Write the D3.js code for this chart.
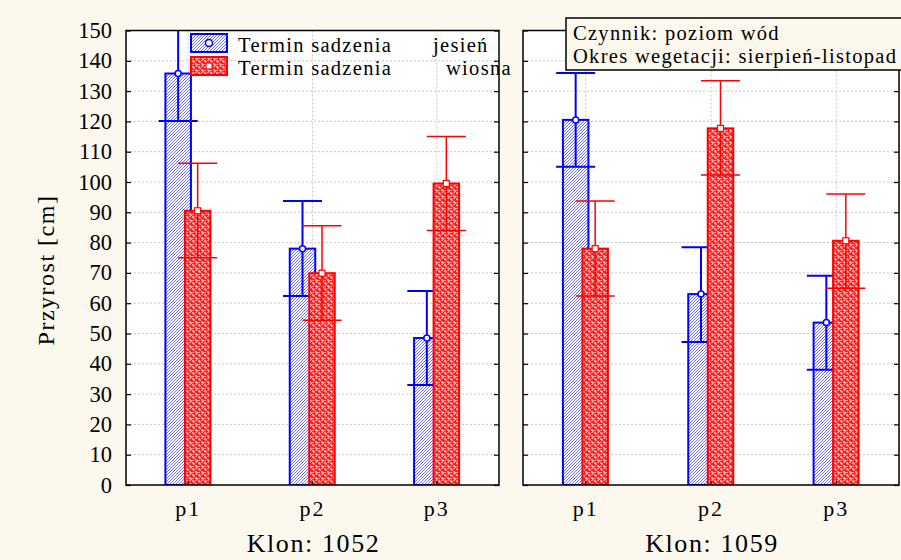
<!DOCTYPE html>
<html>
<head>
<meta charset="utf-8">
<script src="https://cdn.jsdelivr.net/npm/d3@7"></script>
<style>
  html, body { margin: 0; padding: 0; background: #fdf8ee; }
  svg { display: block; font-family: "Liberation Serif", "Times New Roman", serif; }
</style>
</head>
<body>
<div id="chart"></div>
<script>
// --- dane ---
const categories = ["p1", "p2", "p3"];
const clones = ["Klon: 1052", "Klon: 1059"];
const yTicks = [0, 10, 20, 30, 40, 50, 60, 70, 80, 90, 100, 110, 120, 130, 140, 150];

// jesień (niebieski)
const jesienMean = [[135.8, 78.0, 48.5], [120.5, 63.0, 53.6]];
const jesienLow  = [[120.1, 62.4, 33.0], [105.0, 47.2, 38.0]];
const jesienHigh = [[151.5, 93.7, 64.0], [136.0, 78.5, 69.1]];
// wiosna (czerwony)
const wiosnaMean = [[90.5, 69.9, 99.5], [78.0, 117.7, 80.6]];
const wiosnaLow  = [[75.0, 54.4, 84.0], [62.4, 102.3, 64.9]];
const wiosnaHigh = [[106.2, 85.6, 115.0], [93.7, 133.4, 96.0]];

const W = 901, H = 560;
const panels = [{ x0: 126, x1: 499 }, { x0: 523, x1: 899 }];
const yTop = 30.5, yBottom = 485;

const svg = d3.select("#chart").append("svg").attr("width", W).attr("height", H);
svg.append("rect").attr("width", W).attr("height", H).attr("fill", "#fdf8ee");

const defs = svg.append("defs");
// niebieskie kreskowanie ukośne
const pb = defs.append("pattern").attr("id", "hatchBlue")
  .attr("patternUnits", "userSpaceOnUse").attr("width", 3).attr("height", 3);
pb.append("rect").attr("width", 3).attr("height", 3).attr("fill", "#ffffff");
pb.append("path").attr("d", "M-1,1 L1,-1 M0,3 L3,0 M2,4 L4,2")
  .attr("stroke", "#4a4aff").attr("stroke-width", 0.8);
// czerwony wzór "zygzak"
const pr = defs.append("pattern").attr("id", "hatchRed")
  .attr("patternUnits", "userSpaceOnUse").attr("width", 6).attr("height", 6);
pr.append("rect").attr("width", 6).attr("height", 6).attr("fill", "#ff2020");
pr.append("path").attr("d", "M0,1 L2,1 L2,3 M3,4 L5,4 L5,6 M4,0 L4,1 M1,4 L1,5")
  .attr("stroke", "#ffffff").attr("stroke-width", 1).attr("fill", "none");

const y = d3.scaleLinear().domain([0, 150]).range([yBottom, yTop]);

panels.forEach((p, pi) => {
  const x = d3.scaleBand().domain(categories).range([p.x0, p.x1]).padding(0);
  const cx = c => x(c) + x.bandwidth() / 2;
  const clipId = "clip" + pi;
  defs.append("clipPath").attr("id", clipId)
    .append("rect").attr("x", p.x0).attr("y", yTop).attr("width", p.x1 - p.x0).attr("height", yBottom - yTop);

  const g = svg.append("g");
  g.append("rect").attr("x", p.x0).attr("y", yTop).attr("width", p.x1 - p.x0)
    .attr("height", yBottom - yTop).attr("fill", "#ffffff");

  // siatka
  g.append("g").selectAll("line").data(yTicks.filter(t => t > 0 && t < 150)).join("line")
    .attr("x1", p.x0).attr("x2", p.x1).attr("y1", d => y(d)).attr("y2", d => y(d))
    .attr("stroke", "#c8c8c8").attr("stroke-width", 1).attr("stroke-dasharray", "2,2");
  g.append("g").selectAll("line").data(categories).join("line")
    .attr("x1", d => cx(d)).attr("x2", d => cx(d)).attr("y1", yTop).attr("y2", yBottom)
    .attr("stroke", "#c8c8c8").attr("stroke-width", 1).attr("stroke-dasharray", "2,2");

  const plot = g.append("g").attr("clip-path", `url(#${clipId})`);
  const series = [
    { mean: jesienMean[pi], lo: jesienLow[pi], hi: jesienHigh[pi], off: -10, col: "#0000ff", fill: "url(#hatchBlue)", mark: "circle", lw: 2 },
    { mean: wiosnaMean[pi], lo: wiosnaLow[pi], hi: wiosnaHigh[pi], off: 9.5, col: "#ff0000", fill: "url(#hatchRed)", mark: "square", lw: 1.5 }
  ];
  const bw = 25.5, capW = 39;

  series.forEach(s => {
    const rows = categories.map((c, i) => ({ c, m: s.mean[i], lo: s.lo[i], hi: s.hi[i] }));
    plot.append("g").selectAll("rect").data(rows).join("rect")
      .attr("x", d => cx(d.c) + s.off - bw / 2).attr("width", bw)
      .attr("y", d => y(d.m)).attr("height", d => y(0) - y(d.m))
      .attr("fill", s.fill).attr("stroke", s.col).attr("stroke-width", 2);
    const eb = plot.append("g").attr("stroke", s.col).attr("stroke-width", s.lw);
    eb.append("g").selectAll("line").data(rows).join("line")
      .attr("x1", d => cx(d.c) + s.off).attr("x2", d => cx(d.c) + s.off)
      .attr("y1", d => y(d.lo)).attr("y2", d => y(d.hi));
    eb.append("g").selectAll("line").data(rows).join("line")
      .attr("x1", d => cx(d.c) + s.off - capW / 2).attr("x2", d => cx(d.c) + s.off + capW / 2)
      .attr("y1", d => y(d.lo)).attr("y2", d => y(d.lo));
    eb.append("g").selectAll("line").data(rows).join("line")
      .attr("x1", d => cx(d.c) + s.off - capW / 2).attr("x2", d => cx(d.c) + s.off + capW / 2)
      .attr("y1", d => y(d.hi)).attr("y2", d => y(d.hi));
    if (s.mark === "circle") {
      plot.append("g").selectAll("circle").data(rows).join("circle")
        .attr("cx", d => cx(d.c) + s.off).attr("cy", d => y(d.m)).attr("r", 3)
        .attr("fill", "#fff").attr("stroke", s.col).attr("stroke-width", 1.5);
    } else {
      plot.append("g").selectAll("rect").data(rows).join("rect")
        .attr("x", d => cx(d.c) + s.off - 3).attr("y", d => y(d.m) - 3)
        .attr("width", 6).attr("height", 6)
        .attr("fill", "#fff").attr("stroke", s.col).attr("stroke-width", 1.2);
    }
  });

  // ramka
  g.append("rect").attr("x", p.x0).attr("y", yTop).attr("width", p.x1 - p.x0)
    .attr("height", yBottom - yTop).attr("fill", "none").attr("stroke", "#000").attr("stroke-width", 1.5);

  // osie: znaczniki do środka
  const left = d3.axisRight(y).tickValues(yTicks).tickSize(5).tickFormat("");
  const right = d3.axisLeft(y).tickValues(yTicks).tickSize(5).tickFormat("");
  const bot = d3.axisTop(x).tickSize(4).tickFormat("");
  [g.append("g").attr("transform", `translate(${p.x0},0)`).call(left),
   g.append("g").attr("transform", `translate(${p.x1},0)`).call(right),
   g.append("g").attr("transform", `translate(0,${yBottom})`).call(bot)]
    .forEach(a => { a.select(".domain").remove(); a.selectAll("line").attr("stroke", "#000").attr("stroke-width", 1.2); });

  // etykiety kategorii
  svg.append("g").selectAll("text").data(categories).join("text")
    .attr("x", d => cx(d)).attr("y", 516).attr("text-anchor", "middle")
    .attr("font-size", 22).attr("letter-spacing", 2).text(d => d);
  svg.append("text").attr("x", (p.x0 + p.x1) / 2 + 1).attr("y", 552)
    .attr("text-anchor", "middle").attr("font-size", 26).attr("letter-spacing", 1.6)
    .text(clones[pi]);
});

// oś Y - etykiety
svg.append("g").selectAll("text").data(yTicks).join("text")
  .attr("x", 112).attr("y", d => y(d) + 7.5).attr("text-anchor", "end")
  .attr("font-size", 22.5).text(d => d);
svg.append("text").attr("transform", `translate(54,270) rotate(-90)`)
  .attr("text-anchor", "middle").attr("font-size", 24).attr("letter-spacing", 1.5)
  .text("Przyrost [cm]");

// legenda
const legend = [
  { label: "Termin sadzenia", level: "jesień", fill: "url(#hatchBlue)", col: "#0000ff", mark: "circle", lx: 433 },
  { label: "Termin sadzenia", level: "wiosna", fill: "url(#hatchRed)", col: "#ff0000", mark: "square", lx: 446 }
];
const lg = svg.append("g");
legend.forEach((l, i) => {
  const yy = 34 + i * 23;
  lg.append("rect").attr("x", 191).attr("y", yy).attr("width", 36).attr("height", 18)
    .attr("fill", l.fill).attr("stroke", l.col).attr("stroke-width", 2);
  if (l.mark === "circle") {
    lg.append("circle").attr("cx", 209).attr("cy", yy + 9).attr("r", 3.5)
      .attr("fill", "#fff").attr("stroke", l.col).attr("stroke-width", 1.5);
  } else {
    lg.append("rect").attr("x", 206).attr("y", yy + 6).attr("width", 6).attr("height", 6)
      .attr("fill", "#fff").attr("stroke", l.col).attr("stroke-width", 1.2);
  }
  lg.append("text").attr("x", 238).attr("y", yy + 17.5).attr("font-size", 20.5)
    .attr("letter-spacing", 1.3).text(l.label);
  lg.append("text").attr("x", l.lx).attr("y", yy + 17.5).attr("font-size", 20.5)
    .attr("letter-spacing", 1.3).text(l.level);
});

// ramka z opisem czynnika
const info = svg.append("g");
info.append("rect").attr("x", 566).attr("y", 18).attr("width", 340).attr("height", 52)
  .attr("fill", "#fdf8ee").attr("stroke", "#000").attr("stroke-width", 1.5);
info.append("text").attr("x", 573).attr("y", 40).attr("font-size", 20.5)
  .attr("letter-spacing", 1.3).text("Czynnik: poziom wód");
info.append("text").attr("x", 573).attr("y", 63).attr("font-size", 20.5)
  .attr("letter-spacing", 1.3).text("Okres wegetacji: sierpień-listopad");
</script>
</body>
</html>
